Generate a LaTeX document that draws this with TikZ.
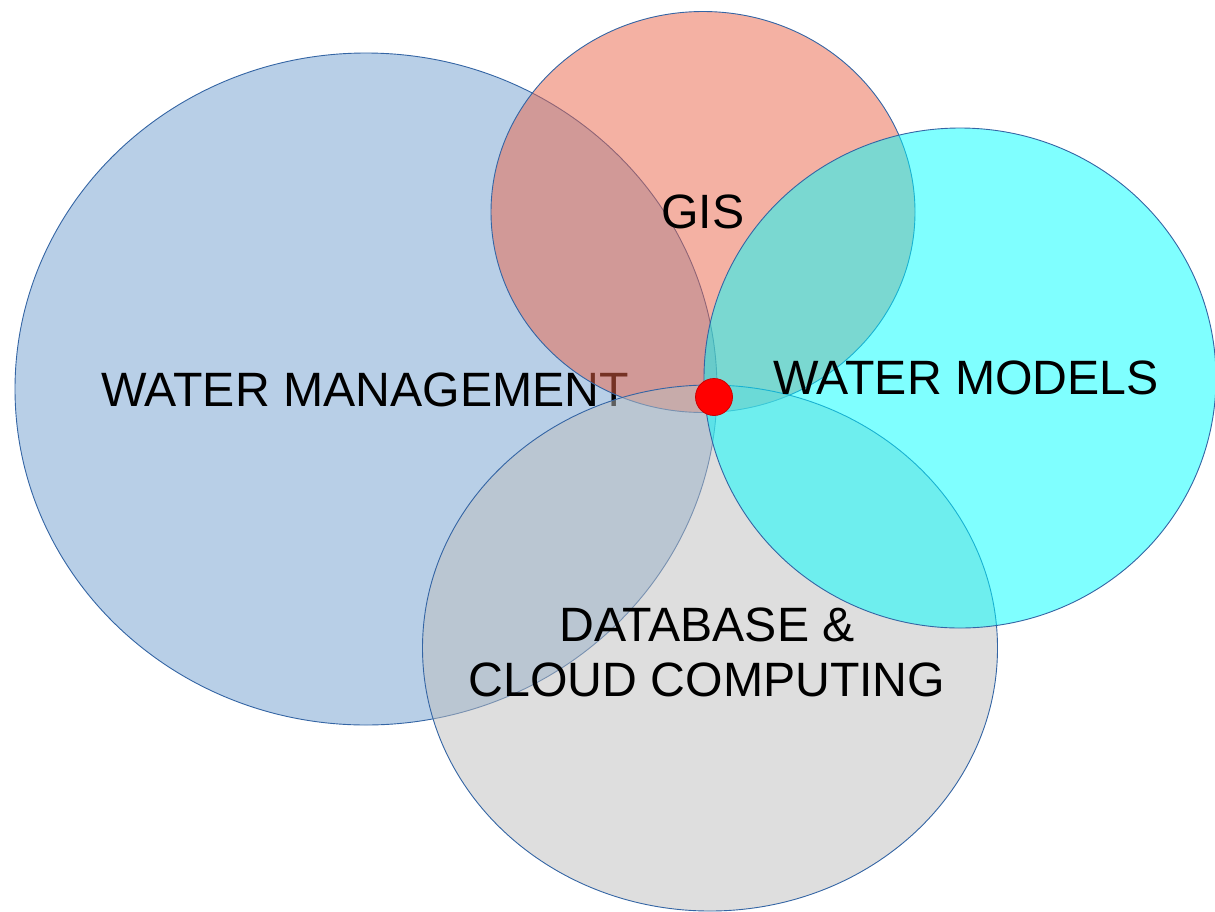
\documentclass[tikz,border=0pt]{standalone}
\usepackage{fontspec}
\setmainfont{Liberation Sans}
\usetikzlibrary{shapes.geometric}
\definecolor{waterblue}{HTML}{729FCF}
\definecolor{gisred}{HTML}{EA6448}
\definecolor{dbgrey}{HTML}{BDBDBD}
\definecolor{modelcyan}{RGB}{0,255,255}
\definecolor{rimblue}{HTML}{3465A4}
\tikzset{every picture/.style={x=1pt,y=-1pt}}
\tikzset{set/.style 2 args={ellipse, minimum width=#1, minimum height=#2, inner sep=0pt, draw=rimblue, line width=0.9pt, fill opacity=0.5}}
\tikzset{set label/.style={font=\fontsize{48.2}{55}\selectfont, align=center, inner sep=0pt}}

\begin{document}
\begin{tikzpicture}
        \useasboundingbox (0,0) rectangle (1215,911);
        % sets, back to front
        \node[set={702pt}{672pt}, fill=waterblue] (wm) at (366,389) {};
        \node[set label] (wm text) at (365,390) {WATER MANAGEMENT};
        \node[set={424pt}{401pt}, fill=gisred] (gis) at (703,212) {};
        \node[set label] (gis text) at (703,212) {GIS};
        \node[set={575pt}{526pt}, fill=dbgrey] (db) at (710,648) {};
        \node[set label] (db text) at (707,652) {DATABASE \&\\CLOUD COMPUTING};
        \node[set={512pt}{500pt}, fill=modelcyan] (models) at (960,378) {};
        \node[set label] (models text) at (966,378) {WATER MODELS};
        % where they all meet
        \node[circle, minimum size=37pt, inner sep=0pt, fill=red, draw=red!80!black, line width=0.8pt] (hub) at (714,397) {};
    \end{tikzpicture}
\end{document}
